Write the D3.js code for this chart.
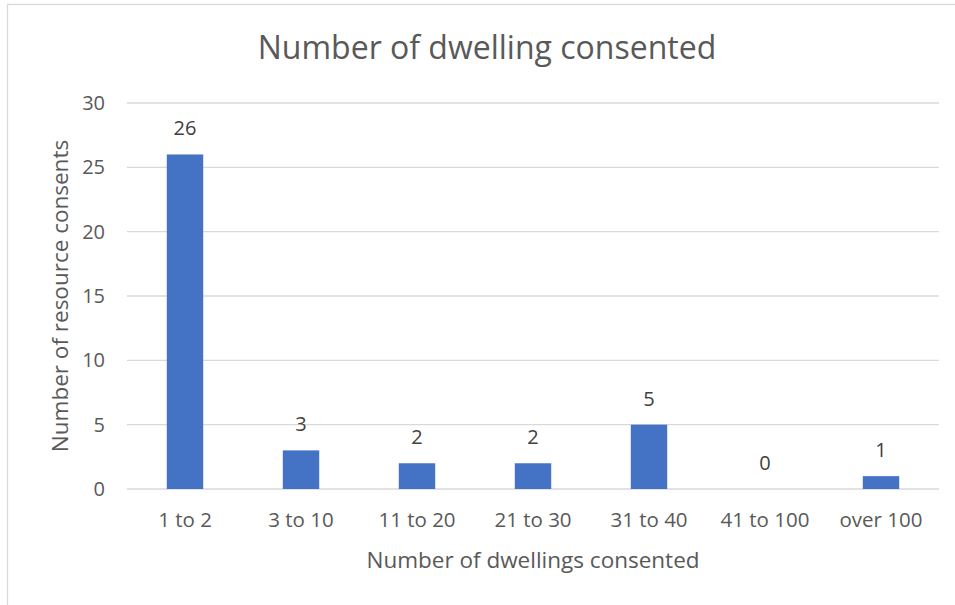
<!DOCTYPE html>
<html>
<head>
<meta charset="utf-8">
<script src="https://d3js.org/d3.v7.min.js"></script>
<style>
body { margin: 0; background: #fff; }
text { font-family: "Open Sans", "Noto Sans", sans-serif; fill: #595959; }
.grid line { stroke: #d9d9d9; stroke-width: 1.3; }
text.label { fill: #404040; }
</style>
</head>
<body>
<script>
var categories = ["1 to 2", "3 to 10", "11 to 20", "21 to 30", "31 to 40", "41 to 100", "over 100"];
var counts = [26, 3, 2, 2, 5, 0, 1];
var yTicks = [0, 5, 10, 15, 20, 25, 30];

var W = 955, H = 605;
var margin = {top: 103, right: 16, bottom: 116, left: 127};
var width = W - margin.left - margin.right,
    height = H - margin.top - margin.bottom;

var svg = d3.select("body").append("svg")
    .attr("width", W).attr("height", H);

// chart border
svg.append("rect")
    .attr("x", 7.5).attr("y", 4.5)
    .attr("width", 960).attr("height", 620)
    .attr("fill", "none").attr("stroke", "#d9d9d9").attr("stroke-width", 1.3);

var g = svg.append("g")
    .attr("transform", "translate(" + margin.left + "," + margin.top + ")");

var x = d3.scaleBand().domain(categories).range([0, width]).paddingInner(0.686).paddingOuter(0.343);
var y = d3.scaleLinear().domain([0, 30]).range([height, 0]);

// gridlines
g.append("g").attr("class", "grid")
  .selectAll("line").data(yTicks).enter().append("line")
    .attr("x1", 0).attr("x2", width)
    .attr("y1", function(d) { return y(d); })
    .attr("y2", function(d) { return y(d); });

// y tick labels
var yAxis = g.append("g")
    .call(d3.axisLeft(y).tickValues(yTicks).tickSize(0).tickPadding(22));
yAxis.select(".domain").remove();
yAxis.selectAll("text").style("font-size", "20px").attr("fill", "#595959");

// x tick labels
var xAxis = g.append("g")
    .attr("transform", "translate(0," + height + ")")
    .call(d3.axisBottom(x).tickSize(0).tickPadding(23));
xAxis.select(".domain").remove();
xAxis.selectAll("text").style("font-size", "20.5px").attr("fill", "#595959");

var data = categories.map(function(c, i) { return {cat: c, count: counts[i]}; });

g.selectAll(".bar").data(data).enter().append("rect")
    .attr("class", "bar")
    .attr("x", function(d) { return x(d.cat); })
    .attr("y", function(d) { return y(d.count); })
    .attr("width", x.bandwidth())
    .attr("height", function(d) { return height - y(d.count); })
    .attr("fill", "#4472c4");

g.selectAll(".label").data(data).enter().append("text")
    .attr("class", "label")
    .attr("x", function(d) { return x(d.cat) + x.bandwidth() / 2; })
    .attr("y", function(d) { return y(d.count) - 19; })
    .attr("text-anchor", "middle")
    .style("font-size", "20px")
    .text(function(d) { return d.count; });

// title
svg.append("text")
    .attr("x", 487).attr("y", 59)
    .attr("text-anchor", "middle")
    .style("font-size", "32px")
    .text("Number of dwelling consented");

// axis titles
svg.append("text")
    .attr("x", margin.left + width / 2).attr("y", 568)
    .attr("text-anchor", "middle")
    .style("font-size", "22.5px")
    .text("Number of dwellings consented");

svg.append("text")
    .attr("transform", "translate(68," + (margin.top + height / 2) + ") rotate(-90)")
    .attr("text-anchor", "middle")
    .style("font-size", "22.5px")
    .text("Number of resource consents");
</script>
</body>
</html>
